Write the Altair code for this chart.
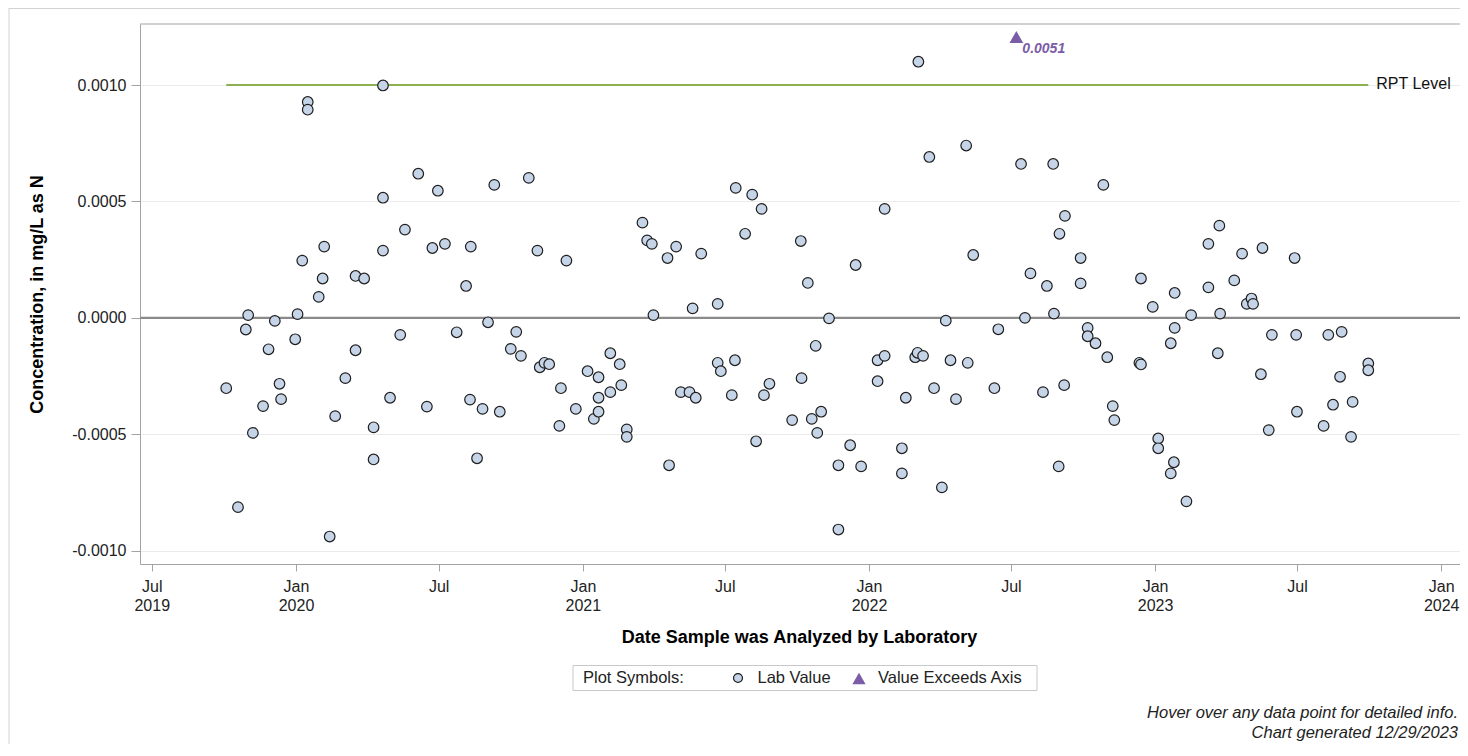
import altair as alt
import pandas as pd

# ---------------- data ----------------
sample_dates = [
    "2019-10-04", "2019-10-19", "2019-10-29", "2019-11-01", "2019-11-07", "2019-11-20", "2019-11-27",
    "2019-12-05", "2019-12-11", "2019-12-13", "2019-12-31",
    "2020-01-03", "2020-01-09", "2020-01-16", "2020-01-16", "2020-01-30", "2020-02-04", "2020-02-06",
    "2020-02-13", "2020-02-20", "2020-03-04", "2020-03-17", "2020-03-17", "2020-03-28", "2020-04-09",
    "2020-04-09", "2020-04-21", "2020-04-21", "2020-04-21", "2020-04-30", "2020-05-13", "2020-05-19",
    "2020-06-05", "2020-06-16", "2020-06-23", "2020-06-30", "2020-07-09", "2020-07-24", "2020-08-05",
    "2020-08-10", "2020-08-11", "2020-08-19", "2020-08-26", "2020-09-02", "2020-09-10", "2020-09-17",
    "2020-10-01", "2020-10-08", "2020-10-14", "2020-10-24", "2020-11-04", "2020-11-07", "2020-11-13",
    "2020-11-19", "2020-12-02", "2020-12-04", "2020-12-11", "2020-12-23",
    "2021-01-07", "2021-01-15", "2021-01-21", "2021-01-21", "2021-01-21", "2021-02-05", "2021-02-05",
    "2021-02-17", "2021-02-19", "2021-02-26", "2021-02-26", "2021-03-18", "2021-03-24", "2021-03-30",
    "2021-04-01", "2021-04-19", "2021-04-21", "2021-04-30", "2021-05-06", "2021-05-17", "2021-05-21",
    "2021-05-25", "2021-06-01", "2021-06-22", "2021-06-22", "2021-06-26", "2021-07-10", "2021-07-14",
    "2021-07-15", "2021-07-27", "2021-08-05", "2021-08-10", "2021-08-17", "2021-08-20", "2021-08-27",
    "2021-09-25", "2021-10-06", "2021-10-07", "2021-10-15", "2021-10-20", "2021-10-25", "2021-10-27",
    "2021-11-01", "2021-11-11", "2021-11-23", "2021-11-23", "2021-12-08", "2021-12-15", "2021-12-22",
    "2022-01-12", "2022-01-12", "2022-01-21", "2022-01-21", "2022-02-12", "2022-02-12", "2022-02-17",
    "2022-03-01", "2022-03-04", "2022-03-05", "2022-03-11", "2022-03-19", "2022-03-25", "2022-04-04",
    "2022-04-09", "2022-04-15", "2022-04-22", "2022-05-05", "2022-05-07", "2022-05-14", "2022-06-10",
    "2022-06-15", "2022-07-14", "2022-07-19", "2022-07-26", "2022-08-11", "2022-08-16", "2022-08-24",
    "2022-08-25", "2022-08-31", "2022-09-01", "2022-09-07", "2022-09-08", "2022-09-28", "2022-09-28",
    "2022-10-07", "2022-10-07", "2022-10-17", "2022-10-27", "2022-11-01", "2022-11-08", "2022-11-10",
    "2022-12-12", "2022-12-14", "2022-12-14", "2022-12-29",
    "2023-01-05", "2023-01-05", "2023-01-21", "2023-01-21", "2023-01-25", "2023-01-26", "2023-01-26",
    "2023-02-10", "2023-02-16", "2023-03-10", "2023-03-10", "2023-03-22", "2023-03-24", "2023-03-25",
    "2023-04-12", "2023-04-22", "2023-04-28", "2023-05-04", "2023-05-06", "2023-05-16", "2023-05-18",
    "2023-05-26", "2023-05-30", "2023-06-28", "2023-06-30", "2023-07-01", "2023-08-04", "2023-08-10",
    "2023-08-16", "2023-08-25", "2023-08-27", "2023-09-08", "2023-09-10", "2023-09-30", "2023-09-30",
]

lab_values = [
    -0.000302, -0.000813, -0.000050, 0.000012, -0.000494, -0.000379, -0.000135,
    -0.000013, -0.000283, -0.000349, -0.000092,
    0.000016, 0.000246, 0.000927, 0.000894, 0.000090, 0.000169, 0.000306,
    -0.000939, -0.000422, -0.000259, -0.000139, 0.000180, 0.000169, -0.000470,
    -0.000608, 0.000998, 0.000516, 0.000289, -0.000343, -0.000073, 0.000379,
    0.000619, -0.000381, 0.000300, 0.000546, 0.000318, -0.000062, 0.000137,
    -0.000351, 0.000306, -0.000603, -0.000391, -0.000019, 0.000571, -0.000403,
    -0.000133, -0.000060, -0.000163, 0.000601, 0.000289, -0.000212, -0.000193,
    -0.000199, -0.000464, -0.000302, 0.000246, -0.000391,
    -0.000229, -0.000434, -0.000255, -0.000343, -0.000403, -0.000152, -0.000319,
    -0.000199, -0.000289, -0.000479, -0.000511, 0.000409, 0.000333, 0.000318,
    0.000012, 0.000257, -0.000633, 0.000306, -0.000319, -0.000319, 0.000041,
    -0.000343, 0.000276, 0.000060, -0.000193, -0.000229, -0.000332, -0.000182,
    0.000558, 0.000361, 0.000529, -0.000530, 0.000468, -0.000332, -0.000283,
    -0.000439, 0.000330, -0.000259, 0.000150, -0.000434, -0.000120, -0.000494,
    -0.000403, -0.000002, -0.000633, -0.000909, -0.000547, 0.000227, -0.000638,
    -0.000182, -0.000272, 0.000468, -0.000163, -0.000560, -0.000668, -0.000343,
    -0.000169, -0.000150, 0.001100, -0.000163, 0.000691, -0.000302, -0.000728,
    -0.000012, -0.000182, -0.000349, 0.000740, -0.000193, 0.000270, -0.000302,
    -0.000049, 0.000661, 0.000000, 0.000191, -0.000319, 0.000137, 0.000661,
    0.000018, -0.000638, 0.000361, -0.000289, 0.000438, 0.000257, 0.000148,
    -0.000043, -0.000079, -0.000109, 0.000571, -0.000169, -0.000379, -0.000439,
    -0.000193, -0.000200, 0.000169, 0.000047,
    -0.000518, -0.000560, -0.000109, -0.000668, -0.000620, 0.000107, -0.000043,
    -0.000788, 0.000012, 0.000318, 0.000131, -0.000152, 0.000396, 0.000018,
    0.000161, 0.000276, 0.000060, 0.000083, 0.000060, -0.000242, 0.000300,
    -0.000482, -0.000073, 0.000257, -0.000073, -0.000403, -0.000464, -0.000073,
    -0.000373, -0.000253, -0.000060, -0.000511, -0.000361, -0.000196, -0.000225,
]

exceed_dates = ["2022-07-08"]
exceed_values = [0.0051]

rpt_level = 0.0010
rpt_label = "RPT Level"

y_ticks = [-0.0010, -0.0005, 0.0, 0.0005, 0.0010]
y_domain = [-0.001057, 0.001262]
x_tick_months = [(2019, 7), (2020, 1), (2020, 7), (2021, 1), (2021, 7), (2022, 1),
                 (2022, 7), (2023, 1), (2023, 7), (2024, 1)]
x_domain = [(2019, 6, 16), (2024, 1, 25)]

x_title = "Date Sample was Analyzed by Laboratory"
y_title = "Concentration, in mg/L as N"
legend_title = "Plot Symbols:"
legend_items = ["Lab Value", "Value Exceeds Axis"]
footnotes = ["Hover over any data point for detailed info.", "Chart generated 12/29/2023"]

# ---------------- styling ----------------
FONT = "Liberation Sans"
W, H = 1320, 540
FILL = "#c6d4e8"
EDGE = "#1e1e1e"
PURPLE = "#7b5ca6"
GREEN = "#8cb04f"
FRAME = "#a3a3a3"

df = pd.DataFrame({"date": [d + "T00:00:00" for d in sample_dates], "value": lab_values})
ex_df = pd.DataFrame({"date": [d + "T00:00:00" for d in exceed_dates], "value": exceed_values})
rpt_df = pd.DataFrame({
    "start": [min(sample_dates) + "T00:00:00"],
    "end": [max(sample_dates) + "T00:00:00"],
    "level": [rpt_level],
    "label": [rpt_label],
})
one = pd.DataFrame({"k": [0]})

x_scale = alt.Scale(
    domain=[alt.DateTime(year=y, month=m, date=d) for (y, m, d) in x_domain], nice=False
)
y_scale = alt.Scale(domain=y_domain, nice=False, zero=False)

x_axis = alt.Axis(
    values=[alt.DateTime(year=y, month=m, date=1) for (y, m) in x_tick_months],
    labelExpr="[timeFormat(datum.value, '%b'), (month(datum.value) == 0 || year(datum.value) == 2019) ? timeFormat(datum.value, '%Y') : '']",
    labelLineHeight=19,
    labelBaseline="top",
    labelAlign="center",
    labelPadding=7,
    labelOverlap=False,
    labelFlush=False,
    tickSize=7,
    grid=False,
    titleX=659,
    titleY=73,
    titleBaseline="middle",
    titleAlign="center",
)
y_axis = alt.Axis(
    values=y_ticks,
    labelExpr="(datum.value < 0 ? '-' : '') + format(abs(datum.value), '.4f')",
    tickSize=9,
    labelPadding=5,
    grid=True,
    titleAngle=270,
    titleX=-103,
    titleY=H / 2,
    titleAlign="center",
    titleBaseline="middle",
)

X = lambda f: alt.X(f, scale=x_scale, axis=x_axis, title=x_title)
Y = lambda f: alt.Y(f, scale=y_scale, axis=y_axis, title=y_title)

points = alt.Chart(df).mark_circle(
    size=112, fill=FILL, stroke=EDGE, strokeWidth=1.2, opacity=1, fillOpacity=1
).encode(x=X("date:T"), y=Y("value:Q"))

zero_line = alt.Chart(one).mark_rule(color="#8a8a8a", strokeWidth=2.4).encode(
    y=alt.Y(datum=0, scale=y_scale, axis=y_axis, title=y_title)
)

rpt_line = alt.Chart(rpt_df).mark_rule(color=GREEN, strokeWidth=2.2).encode(
    x=X("start:T"), x2="end:T", y=Y("level:Q"),
)
rpt_text = alt.Chart(rpt_df).mark_text(
    align="left", baseline="middle", dx=8, dy=-1, font=FONT, fontSize=16, color="#111111"
).encode(x=X("end:T"), y=Y("level:Q"), text="label:N")

exceed_pt = alt.Chart(ex_df).mark_point(
    shape="triangle-up", filled=True, size=190, color=PURPLE, opacity=1
).encode(x=X("date:T"), y=alt.value(13))
exceed_lbl = alt.Chart(ex_df).mark_text(
    align="left", baseline="middle", dx=6, dy=11.5, font=FONT, fontSize=14,
    fontStyle="italic", fontWeight="bold", color=PURPLE
).encode(x=X("date:T"), y=alt.value(13), text=alt.Text("value:Q", format=".4f"))

# frame pieces
top_border = alt.Chart(one).mark_rule(color=FRAME, strokeWidth=1).encode(
    x=alt.value(0), x2=alt.value(W), y=alt.value(0)
)
outer_top = alt.Chart(one).mark_rule(color="#d2d2d2", strokeWidth=1).encode(
    x=alt.value(-131), x2=alt.value(W), y=alt.value(-15.5)
)
outer_left = alt.Chart(one).mark_rule(color="#d2d2d2", strokeWidth=1).encode(
    x=alt.value(-131), y=alt.value(-16), y2=alt.value(H + 180)
)

# legend (drawn below the axis title)
LY = 654
leg_box = alt.Chart(one).mark_rect(fill="white", stroke="#c8c8c8", strokeWidth=1).encode(
    x=alt.value(433), x2=alt.value(897), y=alt.value(LY - 12.5), y2=alt.value(LY + 12.5)
)
leg_title = alt.Chart(one).mark_text(
    align="left", baseline="middle", font=FONT, fontSize=16.5, color="#222222", text=legend_title
).encode(x=alt.value(443), y=alt.value(LY))
leg_circle = alt.Chart(one).mark_circle(
    size=80, fill=FILL, stroke=EDGE, strokeWidth=1.2, opacity=1
).encode(x=alt.value(598), y=alt.value(LY))
leg_t1 = alt.Chart(one).mark_text(
    align="left", baseline="middle", font=FONT, fontSize=16.5, color="#222222", text=legend_items[0]
).encode(x=alt.value(617.5), y=alt.value(LY))
leg_tri = alt.Chart(one).mark_point(
    shape="triangle-up", filled=True, size=175, color=PURPLE, opacity=1
).encode(x=alt.value(719), y=alt.value(LY + 0.5))
leg_t2 = alt.Chart(one).mark_text(
    align="left", baseline="middle", font=FONT, fontSize=16.5, color="#222222", text=legend_items[1]
).encode(x=alt.value(738), y=alt.value(LY))

foot1 = alt.Chart(one).mark_text(
    align="right", baseline="middle", font=FONT, fontSize=16.5, fontStyle="italic",
    color="#222222", text=footnotes[0]
).encode(x=alt.value(W - 2), y=alt.value(688.5))
foot2 = alt.Chart(one).mark_text(
    align="right", baseline="middle", font=FONT, fontSize=16.5, fontStyle="italic",
    color="#222222", text=footnotes[1]
).encode(x=alt.value(W - 2), y=alt.value(708.5))

chart = alt.layer(
    zero_line, rpt_line, points, rpt_text, exceed_pt, exceed_lbl,
    outer_top, outer_left, top_border,
    leg_box, leg_title, leg_circle, leg_t1, leg_tri, leg_t2, foot1, foot2,
).properties(
    width=W,
    height=H,
    padding={"left": 132, "top": 16, "right": 0, "bottom": 180},
    autosize=alt.AutoSizeParams(type="none"),
    background="white",
).configure_view(
    stroke=None
).configure_axis(
    labelFont=FONT,
    titleFont=FONT,
    labelFontSize=16,
    titleFontSize=18,
    titleFontWeight="bold",
    labelColor="#222222",
    titleColor="#000000",
    tickColor=FRAME,
    domainColor=FRAME,
    gridColor="#ebebeb",
    tickWidth=1,
    domainWidth=1,
)

chart.save("out.html", embed_options={"renderer": "svg", "actions": False})
